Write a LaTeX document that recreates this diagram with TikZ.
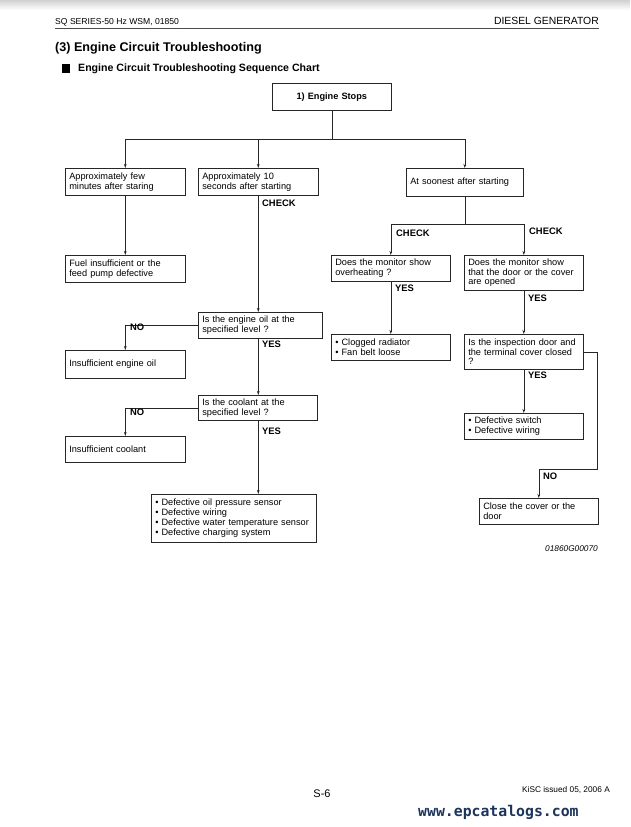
\documentclass[tikz,border=0pt]{standalone}
\usepackage{fontspec}
\setmainfont{Liberation Sans}
\newfontfamily\webfont{DejaVu Sans Mono}
\usetikzlibrary{arrows.meta}
\definecolor{webblue}{RGB}{28,52,92}

\begin{document}
\begin{tikzpicture}[x=1pt, y=-1pt,
        box/.style={draw=black!85, line width=0.6pt, anchor=north west, align=left,
            inner xsep=4pt, inner ysep=2pt, font=\fontsize{9.2}{9.8}\selectfont},
        tag/.style={anchor=west, inner sep=0pt, font=\bfseries\fontsize{9.4}{10}\selectfont},
        arrow/.style={-{Stealth[length=4pt, width=2.6pt]}, line width=0.6pt, draw=black!85},
        link/.style={line width=0.6pt, draw=black!85}
    ]
        \useasboundingbox (0,0) rectangle (630,827);
        \shade[top color=black!18, bottom color=white] (0,0) rectangle (630,10);

        % Header
        \node[anchor=base west, inner sep=0pt, font=\fontsize{8.6}{9}\selectfont] (series) at (55,24) {SQ SERIES-50 Hz WSM, 01850};
        \node[anchor=base east, inner sep=0pt, font=\fontsize{10.4}{11}\selectfont] (generator) at (599,24) {DIESEL GENERATOR};
        \draw[line width=0.5pt, black!70] (55,28) -- (599,28);
        \node[anchor=west, inner sep=0pt, font=\bfseries\fontsize{12.6}{13}\selectfont] (title) at (55,48) {(3) Engine Circuit Troubleshooting};
        \fill (62,64) rectangle (70,73);
        \node[anchor=west, inner sep=0pt, font=\bfseries\fontsize{10.6}{11}\selectfont] (subtitle) at (78,69) {Engine Circuit Troubleshooting Sequence Chart};

        % Start
        \node[box, align=center, text width=111pt, minimum height=27pt, font=\bfseries\fontsize{9.2}{9.8}\selectfont] (stops) at (272,83) {1) Engine Stops};
        \path (stops.south) ++(0,29) coordinate (split);
        \draw[link] (stops.south) -- (split);

        % Three cases
        \node[box, text width=112pt, minimum height=27pt] (fewmin) at (65,168) {Approximately few\\minutes after staring};
        \node[box, text width=112pt, minimum height=27pt] (tensec) at (198,168) {Approximately 10\\seconds after starting};
        \node[box, text width=109pt, minimum height=28pt] (soonest) at (406,168) {At soonest after starting};

        \draw[arrow] (split) -| (fewmin.north);
        \draw[arrow] (split) -| (tensec.north);
        \draw[arrow] (split) -| (soonest.north);

        % Few minutes
        \node[box, text width=112pt, minimum height=27pt] (fuel) at (65,255) {Fuel insufficient or the\\feed pump defective};
        \draw[arrow] (fewmin.south) -- (fuel.north);

        % Ten seconds
        \node[tag] (check1) at (262,203) {CHECK};
        \node[box, text width=116pt, minimum height=26pt] (oil) at (198,312) {Is the engine oil at the\\specified level ?};
        \node[box, text width=112pt, minimum height=28pt] (engoil) at (65,350) {Insufficient engine oil};
        \node[box, text width=111pt, minimum height=25pt] (coolant) at (198,395) {Is the coolant at the\\specified level ?};
        \node[box, text width=112pt, minimum height=26pt] (lowcool) at (65,436) {Insufficient coolant};
        \node[box, text width=157pt, minimum height=48pt] (sensors) at (151,494) {\textbullet{} Defective oil pressure sensor\\\textbullet{} Defective wiring\\\textbullet{} Defective water temperature sensor\\\textbullet{} Defective charging system};

        \draw[arrow] (tensec.south) -- (tensec.south |- oil.north);
        \draw[arrow] (oil.west) -| (engoil.north);
        \node[tag] (no1) at (130,327) {NO};
        \node[tag] (yes1) at (262,344) {YES};
        \draw[arrow] (tensec.south |- oil.south) -- (tensec.south |- coolant.north);
        \draw[arrow] (coolant.west) -| (lowcool.north);
        \node[tag] (no2) at (130,412) {NO};
        \node[tag] (yes2) at (262,431) {YES};
        \draw[arrow] (tensec.south |- coolant.south) -- (tensec.south |- sensors.north);

        % At soonest
        \path (soonest.south) ++(0,28) coordinate (split2);
        \draw[link] (soonest.south) -- (split2);
        \node[box, text width=111pt, minimum height=26pt] (overheat) at (331,255) {Does the monitor show\\overheating ?};
        \node[box, text width=111pt, minimum height=35pt] (door) at (464,255) {Does the monitor show\\that the door or the cover\\are opened};
        \draw[arrow] (split2) -| (overheat.north);
        \draw[arrow] (split2) -| (door.north);
        \node[tag] (check2) at (396,233) {CHECK};
        \node[tag] (check3) at (529,231) {CHECK};

        \node[box, text width=111pt, minimum height=26pt] (radiator) at (331,334) {\textbullet{} Clogged radiator\\\textbullet{} Fan belt loose};
        \draw[arrow] (overheat.south) -- (radiator.north);
        \node[tag] (yes3) at (395,288) {YES};

        \node[box, text width=111pt, minimum height=35pt] (inspect) at (464,334) {Is the inspection door and\\the terminal cover closed\\?};
        \draw[arrow] (door.south) -- (inspect.north);
        \node[tag] (yes4) at (528,298) {YES};

        \node[box, text width=111pt, minimum height=26pt] (switch) at (464,413) {\textbullet{} Defective switch\\\textbullet{} Defective wiring};
        \draw[arrow] (inspect.south) -- (switch.north);
        \node[tag] (yes5) at (528,375) {YES};

        \node[box, text width=111pt, minimum height=26pt] (close) at (479,498) {Close the cover or the\\door};
        \coordinate (turn) at (597,469);
        \draw[arrow] (inspect.east) -| (turn) -| (close.north);
        \node[tag] (no3) at (543,476) {NO};

        % Figure code and footer
        \node[anchor=base east, inner sep=0pt, font=\itshape\fontsize{8.3}{9}\selectfont] (figcode) at (598,551) {01860G00070};
        \node[anchor=base, inner sep=0pt, font=\fontsize{11}{12}\selectfont] (page) at (322,797) {S-6};
        \node[anchor=base east, inner sep=0pt, font=\fontsize{8.3}{9}\selectfont] (issued) at (610,792) {KiSC issued 05, 2006 A};
        \node[anchor=base west, inner sep=0pt, text=webblue, font=\webfont\bfseries\fontsize{14.8}{15}\selectfont] (web) at (418,816) {www.epcatalogs.com};
    \end{tikzpicture}
\end{document}
